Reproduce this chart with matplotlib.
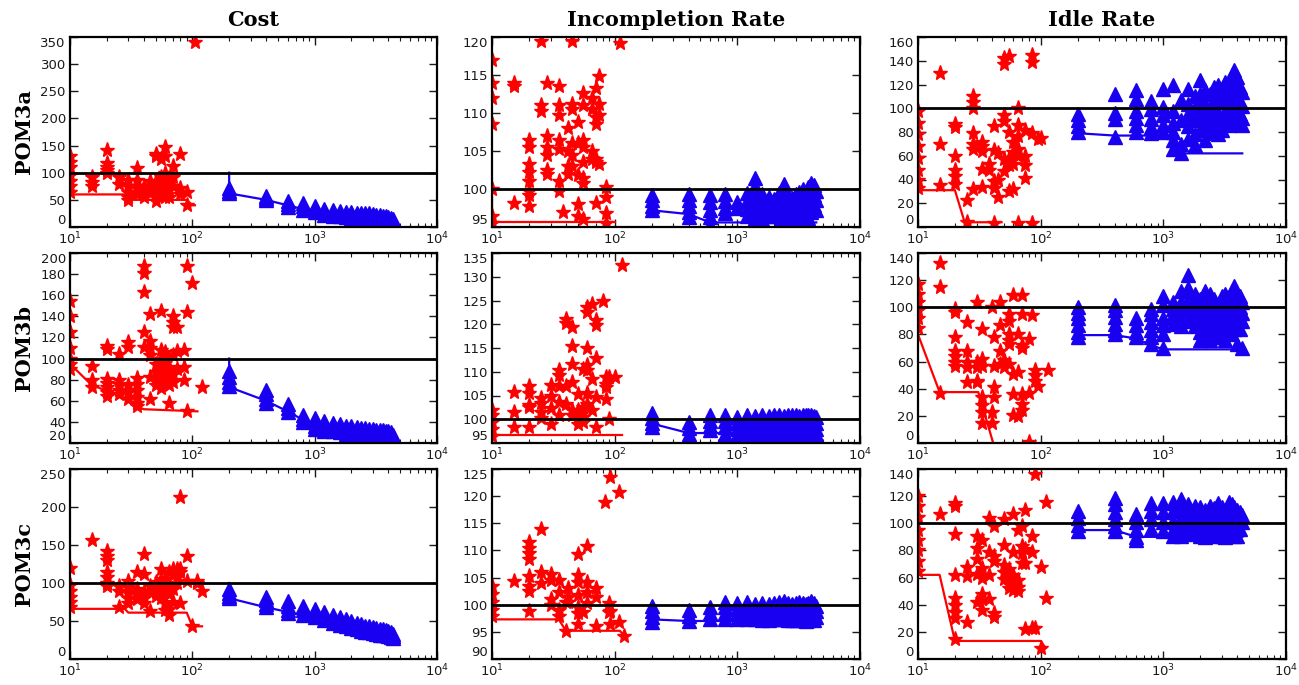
"""POM3 scatter grid: cost / incompletion / idle vs. evaluations."""

import matplotlib

matplotlib.use("Agg")
import matplotlib.pyplot as plt
from matplotlib.ticker import LogLocator, NullFormatter

# x positions of the blue runs (shared by every panel)
runs = [200, 400, 600, 800, 1000, 1200, 1400, 1600, 1800, 2000, 2200,
        2400, 2600, 2800, 3000, 3200, 3400, 3600, 3800, 4000, 4200, 4400]

col_titles = ["Cost", "Incompletion Rate", "Idle Rate"]
row_titles = ["POM3a", "POM3b", "POM3c"]

# ---------------- POM3a ----------------
cost_a_red = [
    (10, [130, 120, 110, 95, 85, 75, 65]), (15, [92, 82, 75]),
    (20, [142, 118, 110, 105, 100]), (25, [92, 80]),
    (30, [86, 75, 65, 55, 50]), (35, [108, 86, 72, 60]),
    (40, [76, 65, 55]), (45, [85, 70, 62]),
    (50, [135, 130, 85, 75, 60, 48]), (55, [125, 92, 75, 60]),
    (60, [147, 130, 100, 90, 80, 65, 55]), (65, [85, 70, 55]),
    (70, [112, 92, 75]), (80, [134, 72, 60]), (90, [64, 40]), (105, [340]),
]
cost_a_red_line_x = [10, 10, 28, 30, 90, 100, 105]
cost_a_red_line_y = [100, 60, 60, 50, 50, 40, 40]
cost_a_blue = [
    [72, 66, 62], [58, 53, 49], [48, 42, 37], [44, 38, 32], [38, 32, 27],
    [33, 28, 23], [31, 26, 21], [29, 24, 20], [28, 23, 18], [27, 22, 17],
    [26, 21, 16], [26, 20, 15], [25, 19, 15], [25, 18, 14], [24, 17, 13],
    [23, 16, 12], [22, 15, 11], [21, 14, 10], [20, 13, 9], [19, 12, 8],
    [17, 11, 7], [14, 8, 4],
]
cost_a_blue_line_x = [200, 200, 400, 600, 800, 1000, 1200, 1600, 2000, 2400, 3000, 3600, 4000, 4400]
cost_a_blue_line_y = [100, 62, 50, 40, 33, 28, 23, 20, 17, 15, 13, 10, 8, 5]

inc_a_red = [
    (10, [117, 114, 112, 108.5, 100, 96.5, 95.5]), (15, [114, 113.5, 98.2]),
    (20, [106.5, 105.5, 103.3, 102.2, 101, 99.8, 99.2, 97.8]),
    (25, [119.5, 111, 110.2]), (28, [114, 107, 105.5, 104.5, 102.5, 102]),
    (35, [113.5, 111, 109.8, 106.5, 105.3, 101, 99.8]), (38, [97]),
    (42, [108, 105, 103, 102]), (45, [119.5, 111.2, 110.5, 106, 104.5, 103]),
    (50, [108.8, 106, 101.8, 98, 96.5]),
    (55, [112.6, 111, 106.5, 105.5, 103.5, 101.5, 100.8, 96]),
    (65, [112, 110.5, 105, 104]), (70, [113.3, 109.5, 108.6, 104, 103.5, 98.2]),
    (75, [114.9, 111.2, 109.8, 103.3]), (85, [100.3, 98.9, 96.9, 95.5]),
    (110, [119.2]),
]
inc_a_red_line_x = [10, 10, 100]
inc_a_red_line_y = [100, 95.6, 95.6]
inc_a_blue = [
    [99.2, 98.5, 97.8, 97.2], [99.3, 98.6, 97.8, 97, 96.3],
    [99.2, 98.3, 97.3, 96.3, 95.3], [99.3, 98.4, 97.5, 96.8], [98.3, 97.5],
    [99.5, 98.4, 97.4, 96.5], [101.4, 100.4, 99.3, 98.2, 97.2, 96.2],
    [99.3, 98.4, 97.2, 96], [99, 97.8, 96.5], [98.7, 97.6, 96.4],
    [99.5, 98.2, 96.8, 95.5], [100.6, 99.5, 98.3, 97, 95.8],
    [99.2, 97.8, 96.5, 95.3], [98.8, 97.5, 96.2], [99.3, 98, 96.5, 95.2],
    [99.6, 98.3, 97, 95.6], [100, 98.7, 97.3], [99.5, 98.2, 96.8, 95.4],
    [100.2, 99, 97.6, 96.2], [100.8, 99.6, 98.3, 97], [100.5, 99.2, 97.9],
    [99.8, 98.5, 97.2],
]
inc_a_blue_line_x = [200, 400, 600, 4400]
inc_a_blue_line_y = [97.2, 96.7, 95.6, 95.6]

idle_a_red = [
    (10, [98, 88, 78, 68, 58, 48, 40, 33]), (15, [130, 70, 35]),
    (20, [87, 84, 60, 48, 43, 36]), (25, [23, 4]),
    (28, [110, 105, 100, 79, 70, 66, 32]), (33, [72, 68, 64, 49, 34]),
    (38, [53, 48]), (42, [85, 65, 39, 33, 3]), (45, [62, 40, 25]),
    (50, [137, 142, 94, 89, 57, 47]), (55, [144, 80, 58, 52, 30]),
    (60, [72, 63, 53, 32]), (65, [100, 86, 77, 66, 60, 3]),
    (75, [82, 60, 52, 41]), (85, [145, 139, 79, 3]), (95, [74]), (100, [75]),
]
idle_a_red_line_x = [10, 10, 20, 24, 48]
idle_a_red_line_y = [100, 31, 31, 4, 4]
idle_a_blue = [
    [95, 90, 85, 80], [112, 96, 91, 76], [115, 108, 98, 92, 86, 80],
    [106, 99, 91, 84, 79], [116, 101, 94, 86, 80], [120, 98, 88, 80, 73, 66],
    [107, 90, 70, 62], [116, 104, 95, 85, 74], [110, 100, 90, 78, 69],
    [124, 112, 102, 92, 82], [115, 104, 94, 84, 73], [112, 100, 90, 79],
    [118, 107, 96, 86], [120, 108, 96, 85, 78], [116, 105, 93, 82],
    [122, 110, 98, 88], [118, 106, 95, 86], [128, 115, 104, 93],
    [132, 120, 108, 96, 88], [126, 114, 102, 90], [118, 106, 95, 87],
    [114, 102, 92, 86],
]
idle_a_blue_line_x = [200, 400, 1200, 1400, 4400]
idle_a_blue_line_y = [79, 77, 77, 62, 62]

# ---------------- POM3b ----------------
cost_b_red = [
    (10, [155, 140, 125, 110, 100, 95, 90]), (15, [93, 80, 73]),
    (20, [112, 109, 81, 77, 73, 68, 65]), (25, [104, 80, 76, 70, 66]),
    (30, [116, 111, 75, 68, 62]), (35, [82, 76, 70, 64, 58, 55]),
    (40, [188, 181, 163, 125, 111]), (45, [142, 117, 110, 103, 83, 62]),
    (50, [95, 87, 80, 75]), (55, [145, 108, 100, 88, 82, 72]),
    (60, [106, 102, 96, 85, 78]), (65, [92, 84, 75, 58]),
    (70, [140, 135, 130, 103, 85, 78]), (75, [130, 107, 90]),
    (85, [108, 92, 80]), (90, [188, 144, 50]), (100, [172]), (119, [73]),
]
cost_b_red_line_x = [10, 15, 25, 35, 40, 110]
cost_b_red_line_y = [95, 75, 65, 55, 52, 50]
cost_b_blue = [
    [88, 83, 78, 74], [70, 66, 62, 58], [57, 53, 49], [47, 43, 40],
    [44, 40, 36, 33], [41, 37, 33, 31], [39, 35, 31], [38, 34, 30],
    [36, 33, 29], [36, 32, 28], [35, 31, 28], [34, 30, 27], [34, 30, 27],
    [33, 29, 26], [33, 29, 26], [32, 28, 26], [32, 28, 25], [32, 28, 25],
    [31, 27, 25], [31, 27, 25], [30, 27, 24], [28, 25, 23],
]
cost_b_blue_line_x = [200, 200, 400, 600, 800, 1000, 1200, 1600, 2000, 3000, 4400]
cost_b_blue_line_y = [100, 73, 60, 50, 42, 36, 33, 31, 29, 27, 25]

inc_b_red = [
    (10, [102, 101, 99.5, 98, 96.5]), (15, [105.8, 101.6, 98.4]),
    (20, [107, 105.5, 103, 102.5, 98.3]), (25, [104.5, 103.5, 101.5, 100.2]),
    (30, [107.2, 105, 102.3, 99.1]), (35, [110.3, 109.3, 107, 103.6, 100.8]),
    (40, [121.2, 120.3, 107, 103.3]), (45, [119.5, 115.5, 111.7, 107.8, 102, 101]),
    (50, [105.4, 102, 101, 100, 99]), (55, [110.5, 102.5, 101.5, 100.5, 99.5]),
    (60, [123.6, 122.6, 115, 111.5, 110.3, 105.5, 103.3]),
    (65, [124.3, 108.5, 102]), (70, [121, 119.8, 112.8, 104.7, 98.4]),
    (80, [125]), (85, [109, 107.5, 106.8, 104.3]), (90, [109, 100.1]),
    (100, [109]), (115, [132.5]),
]
inc_b_red_line_x = [10, 10, 115]
inc_b_red_line_y = [100, 96.6, 96.6]
inc_b_blue = [
    [101.3, 100.3, 99.3, 98.4], [99.5, 98.2, 97, 96.2], [100.8, 99.6, 98.5, 97.7],
    [100.8, 99.6, 98.3, 97], [100.5, 99.3, 98, 96.6], [100.8, 99.5, 98.2, 97],
    [100.6, 99.4, 98.1, 96.9], [100.9, 99.6, 98.3, 97.1], [100.7, 99.5, 98.2, 96.8],
    [100.8, 99.5, 98.3, 97], [100.9, 99.7, 98.4, 97.1], [100.7, 99.4, 98.1, 96.9],
    [100.8, 99.6, 98.3, 97], [100.9, 99.5, 98.2, 97], [100.8, 99.6, 98.4, 97.1],
    [100.7, 99.5, 98.2, 96.9], [100.9, 99.6, 98.3, 97], [100.8, 99.5, 98.2, 97],
    [100.9, 99.7, 98.4, 97.1], [100.8, 99.6, 98.3, 97], [100.7, 99.4, 98.2, 96.9],
    [100.4, 99.2, 98, 97],
]
inc_b_blue_line_x = [200, 200, 400, 800, 4400]
inc_b_blue_line_y = [100, 99.1, 97.1, 97.1, 97.1]

idle_b_red = [
    (10, [117, 110, 104, 98, 92, 85]), (15, [133, 115, 37]),
    (20, [98.5, 96.5, 78, 68, 64, 60, 57]), (25, [89, 68, 60, 56, 45]),
    (30, [104, 60, 56, 46, 45]), (33, [84, 62, 57, 34, 28, 23, 15]),
    (40, [100, 23, 15]), (42, [78, 57, 41, 34]), (47, [104, 87, 68, 58]),
    (50, [61, 56]), (55, [95, 90, 80, 76, 73, 58]), (60, [109, 51, 36, 21]),
    (65, [80, 52, 20]), (70, [109, 95, 72, 70, 36, 29, 24]), (80, [77, 37, 1]),
    (85, [94]), (90, [54, 50, 46]), (95, [42]), (115, [54]),
]
idle_b_red_line_x = [10, 10, 15, 31, 41]
idle_b_red_line_y = [100, 80, 37.5, 37.5, 0]
idle_b_blue = [
    [100, 96, 92, 87, 82, 78], [102, 98, 93, 88, 83, 80], [92, 87, 82, 78],
    [99, 95, 89, 83, 78, 73], [108, 102, 92, 87, 80, 70], [104, 99, 94, 88],
    [112, 104, 98, 92, 86], [124, 114, 106, 98, 90], [110, 102, 94, 86],
    [106, 98, 90, 82, 76], [112, 104, 96, 88, 80], [110, 102, 94, 84, 76],
    [106, 98, 90, 80], [102, 94, 86, 78], [108, 100, 92, 84],
    [110, 102, 94, 85, 76], [106, 98, 90, 82], [112, 104, 96, 88, 80],
    [116, 108, 100, 92, 84], [110, 102, 94, 86, 73], [108, 100, 92, 84],
    [104, 96, 90, 70],
]
idle_b_blue_line_x = [200, 400, 600, 800, 1000, 4400]
idle_b_blue_line_y = [79.5, 79.5, 77, 72, 69, 69]

# ---------------- POM3c ----------------
cost_c_red = [
    (10, [120, 98, 90, 82, 75, 68]), (15, [156]),
    (20, [142, 135, 130, 115, 108, 100, 96]), (25, [96, 90, 68]),
    (30, [103, 95, 88, 80, 74]), (35, [114, 92, 85, 79]),
    (40, [138, 112, 88, 80, 74]), (45, [96, 90, 63]), (50, [101, 95, 88, 83]),
    (55, [118, 105, 88, 80]), (60, [105, 95, 74, 65]),
    (65, [114, 98, 85, 66, 58]), (70, [118, 110, 92, 75]), (75, [118, 108, 100]),
    (80, [213, 118, 114, 74]), (90, [136, 102]), (100, [44]), (110, [103, 100]),
    (120, [89]),
]
cost_c_red_line_x = [10, 10, 28, 30, 90, 100, 120]
cost_c_red_line_y = [100, 66, 66, 61, 61, 43, 43]
cost_c_blue = [
    [92, 87, 83, 80], [82, 77, 72, 68], [76, 70, 64, 60], [70, 64, 58],
    [66, 60, 55], [62, 56, 51], [58, 52, 48], [55, 50, 45], [52, 47, 43],
    [50, 45, 41], [48, 43, 39], [46, 41, 37], [44, 40, 36], [43, 39, 35],
    [42, 37, 34], [41, 36, 33], [40, 35, 32], [39, 35, 31], [38, 34, 31],
    [37, 33, 30], [36, 32, 29], [33, 30, 28],
]
cost_c_blue_line_x = [200, 200, 400, 600, 800, 1000, 1200, 1600, 2000, 3000, 4400]
cost_c_blue_line_y = [100, 80, 68, 62, 57, 53, 49, 44, 40, 34, 29]

inc_c_red = [
    (10, [103.5, 102, 100.5, 99, 98]), (15, [104.4]),
    (20, [111.5, 110.5, 109.5, 108.5, 105.3, 103.5, 102.5, 98.9]),
    (25, [114, 106, 104]), (30, [105.7, 104.5, 101, 100]),
    (35, [104.5, 102.3, 99, 98]), (40, [95.2, 100.5]), (42, [103, 101.5, 100.5]),
    (50, [109.4, 105.4, 104.2, 101.7, 99.5, 98.5, 96.4]), (55, [98.6]),
    (60, [110.8, 104.2, 102.3, 100.4]), (70, [103, 101.5, 96.1]),
    (84, [119]), (90, [100.4, 98.6]), (92, [123.6, 98.9, 96.4]),
    (108, [120.8, 96.8]), (120, [94.3]),
]
inc_c_red_line_x = [10, 10, 35, 40, 110, 120]
inc_c_red_line_y = [100, 97.3, 97.3, 95.2, 95.2, 94.3]
inc_c_blue = [
    [99.8, 98.8, 97.8, 96.9], [99, 98, 97], [99.5, 98.5, 97.4],
    [100.5, 99.5, 98.4, 97.4], [100.3, 99.3, 98.3, 97.3], [100.5, 99.4, 98.3, 97.3],
    [100.2, 99.2, 98.2, 97.4], [100.4, 99.3, 98.2, 97.2], [100.1, 99.1, 98.1, 97.1],
    [100.3, 99.3, 98.3, 97.3], [100.5, 99.5, 98.4, 97.4], [100.6, 99.5, 98.4, 97.3],
    [100.3, 99.3, 98.2, 97.2], [100.2, 99.2, 98.1, 97.1], [100.4, 99.3, 98.3, 97.2],
    [100.5, 99.4, 98.3, 97.3], [100.3, 99.2, 98.2, 97.2], [100.2, 99.2, 98.1, 97],
    [100.4, 99.3, 98.2, 97.1], [100.6, 99.5, 98.4, 97.3], [100.3, 99.3, 98.2, 97.2],
    [99.8, 98.8, 97.8],
]
inc_c_blue_line_x = [200, 400, 4400]
inc_c_blue_line_y = [97.3, 97, 97]

idle_c_red = [
    (10, [120, 113, 105, 95, 88, 80, 72, 65]), (15, [107]),
    (20, [115, 113, 92, 62, 45, 40, 35, 30, 15]), (25, [68, 61, 27]),
    (30, [91, 82, 74, 63, 42]), (33, [88, 67, 60, 48, 44, 36]),
    (38, [104, 79, 62, 44]), (42, [98, 76, 72, 34, 31]),
    (50, [103, 84, 69, 64, 59]), (55, [66, 60, 55, 52]),
    (60, [107, 79, 62, 56, 51]), (65, [95, 58, 53, 50]), (70, [98, 83, 78, 71]),
    (75, [110, 81, 71, 22]), (85, [91, 79, 23]), (90, [136, 23]), (100, [68, 8]),
    (110, [116, 45]),
]
idle_c_red_line_x = [10, 10, 15, 20, 100, 110]
idle_c_red_line_y = [100, 62, 62, 13.3, 13.3, 8]
idle_c_blue = [
    [109, 104, 99, 94], [119, 114, 108, 103, 98, 94], [107, 101, 95, 90, 88],
    [115, 109, 103, 96], [115, 108, 101, 94], [116, 109, 102, 95, 91],
    [118, 111, 104, 97, 91], [114, 107, 100, 93], [113, 106, 99, 92],
    [112, 105, 98, 91], [110, 103, 96, 90], [113, 106, 99, 92],
    [111, 104, 97, 91], [115, 108, 101, 94], [112, 105, 98, 91],
    [110, 103, 96, 90], [116, 109, 102, 95], [114, 107, 100, 93],
    [112, 105, 98, 91], [110, 103, 96, 91], [108, 102, 96], [106, 101],
]
idle_c_blue_line_x = [200, 400, 600, 4400]
idle_c_blue_line_y = [95, 95, 90, 90]

# y tick sets per panel (axis limits = first/last tick)
yticks_grid = [
    [list(range(0, 351, 50)), list(range(95, 121, 5)), list(range(0, 161, 20))],
    [list(range(20, 201, 20)), list(range(95, 136, 5)), list(range(0, 141, 20))],
    [list(range(0, 251, 50)), list(range(90, 126, 5)), list(range(0, 141, 20))],
]

panels = [
    [
        (cost_a_red, cost_a_red_line_x, cost_a_red_line_y, cost_a_blue, cost_a_blue_line_x, cost_a_blue_line_y),
        (inc_a_red, inc_a_red_line_x, inc_a_red_line_y, inc_a_blue, inc_a_blue_line_x, inc_a_blue_line_y),
        (idle_a_red, idle_a_red_line_x, idle_a_red_line_y, idle_a_blue, idle_a_blue_line_x, idle_a_blue_line_y),
    ],
    [
        (cost_b_red, cost_b_red_line_x, cost_b_red_line_y, cost_b_blue, cost_b_blue_line_x, cost_b_blue_line_y),
        (inc_b_red, inc_b_red_line_x, inc_b_red_line_y, inc_b_blue, inc_b_blue_line_x, inc_b_blue_line_y),
        (idle_b_red, idle_b_red_line_x, idle_b_red_line_y, idle_b_blue, idle_b_blue_line_x, idle_b_blue_line_y),
    ],
    [
        (cost_c_red, cost_c_red_line_x, cost_c_red_line_y, cost_c_blue, cost_c_blue_line_x, cost_c_blue_line_y),
        (inc_c_red, inc_c_red_line_x, inc_c_red_line_y, inc_c_blue, inc_c_blue_line_x, inc_c_blue_line_y),
        (idle_c_red, idle_c_red_line_x, idle_c_red_line_y, idle_c_blue, idle_c_blue_line_x, idle_c_blue_line_y),
    ],
]

W, H = 1299, 685
col_left = [70, 492, 918]
col_width = [367, 368, 368]
row_top = [37, 253, 469]
row_height = 190

RED = "#ff0000"
BLUE = "#1a00f0"
TITLE_FONT = dict(family="DejaVu Serif", fontweight="bold", fontsize=15)


def draw_panel(ax, red_cols, red_lx, red_ly, blue_cols, blue_lx, blue_ly, yticks):
    rx = [x for x, ys in red_cols for _ in ys]
    ry = [y for _, ys in red_cols for y in ys]
    bx = [x for x, ys in zip(runs, blue_cols) for _ in ys]
    by = [y for ys in blue_cols for y in ys]

    ax.plot(red_lx, red_ly, "-", color=RED, lw=1.6, zorder=2)
    ax.plot(rx, ry, "*", color=RED, mec=RED, ms=11, zorder=2)
    ax.plot(blue_lx, blue_ly, "-", color=BLUE, lw=1.6, zorder=2)
    ax.plot(bx, by, "^", color=BLUE, mec=BLUE, ms=10.5, zorder=2)
    ax.axhline(100, color="black", lw=2, zorder=3)

    ax.set_xscale("log")
    ax.set_xlim(10, 1e4)
    ax.xaxis.set_major_locator(LogLocator(base=10))
    ax.xaxis.set_minor_locator(LogLocator(base=10, subs=range(2, 10)))
    ax.xaxis.set_minor_formatter(NullFormatter())
    ax.set_yticks(yticks)
    ax.set_ylim(yticks[0], yticks[-1])

    ax.tick_params(which="both", direction="in", top=True, right=True,
                   labelsize=9.5, colors="#1a1a1a", pad=3)
    ax.tick_params(which="major", length=6, width=1)
    ax.tick_params(which="minor", length=3, width=0.8)
    for sp in ax.spines.values():
        sp.set_linewidth(1.6)

    ticks = ax.yaxis.get_major_ticks()
    ticks[0].label1.set_verticalalignment("bottom")
    ticks[-1].label1.set_verticalalignment("top")


fig = plt.figure(figsize=(W / 100, H / 100), dpi=100)
fig.patch.set_facecolor("white")

for r in range(3):
    for c in range(3):
        rect = [col_left[c] / W, 1 - (row_top[r] + row_height) / H,
                col_width[c] / W, row_height / H]
        ax = fig.add_axes(rect)
        draw_panel(ax, *panels[r][c], yticks_grid[r][c])
        if r == 0:
            ax.set_title(col_titles[c], pad=8, **TITLE_FONT)
        if c == 0:
            ax.set_ylabel(row_titles[r], labelpad=5, **TITLE_FONT)

fig.savefig("out.png", dpi=100, facecolor="white")
